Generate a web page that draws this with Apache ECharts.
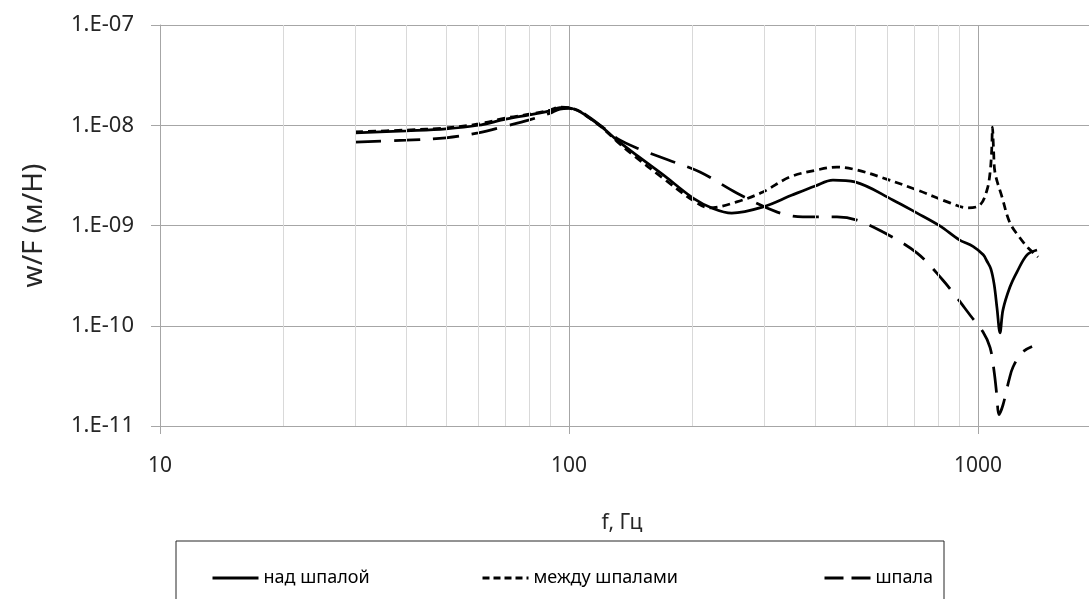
<!DOCTYPE html>
<html>
<head>
<meta charset="utf-8">
<script src="https://cdn.jsdelivr.net/npm/echarts@6/dist/echarts.min.js"></script>
<style>
  html, body { margin: 0; padding: 0; background: #ffffff; }
  #chart { width: 1089px; height: 599px; }
</style>
</head>
<body>
<div id="chart"></div>
<script>
// Receptance w/F (m/N) of the track versus frequency, three measuring points
const seriesNames = ['над шпалой', 'между шпалами', 'шпала'];

// над шпалой (rail over the sleeper)
const freqOverSleeper = [30, 40, 50, 60, 70, 80, 90, 95, 100, 105, 110, 120, 131, 143, 170, 201, 225, 250, 298, 350, 400, 442, 500, 619, 710, 807, 900, 972, 1030, 1052, 1075, 1095, 1113, 1132, 1151, 1197, 1245, 1318, 1394];
const valOverSleeper = [8.4e-9, 8.8e-9, 9.2e-9, 1.0e-8, 1.15e-8, 1.27e-8, 1.39e-8, 1.5e-8, 1.49e-8, 1.4e-8, 1.25e-8, 9.7e-9, 7.1e-9, 5.4e-9, 3.2e-9, 1.88e-9, 1.48e-9, 1.33e-9, 1.53e-9, 2.0e-9, 2.48e-9, 2.84e-9, 2.72e-9, 1.8e-9, 1.33e-9, 9.9e-10, 7.2e-10, 6.2e-10, 5.1e-10, 4.4e-10, 3.7e-10, 2.6e-10, 1.5e-10, 8.5e-11, 1.44e-10, 2.43e-10, 3.43e-10, 5.1e-10, 5.7e-10];

// между шпалами (rail between sleepers)
const freqBetween = [30, 40, 50, 60, 70, 80, 90, 95, 100, 105, 110, 120, 131, 143, 170, 201, 221, 257, 298, 347, 404, 452, 506, 586, 710, 854, 940, 1011, 1052, 1070, 1080, 1085, 1092, 1101, 1145, 1197, 1267, 1325, 1402];
const valBetween = [8.6e-9, 8.95e-9, 9.4e-9, 1.03e-8, 1.18e-8, 1.29e-8, 1.42e-8, 1.52e-8, 1.5e-8, 1.41e-8, 1.25e-8, 9.6e-9, 6.9e-9, 5.1e-9, 2.95e-9, 1.78e-9, 1.5e-9, 1.72e-9, 2.16e-9, 3.05e-9, 3.58e-9, 3.83e-9, 3.58e-9, 2.98e-9, 2.26e-9, 1.68e-9, 1.5e-9, 1.6e-9, 2.26e-9, 3.34e-9, 5.6e-9, 9.6e-9, 5.5e-9, 3.34e-9, 1.92e-9, 1.06e-9, 7.5e-10, 6.0e-10, 4.85e-10];

// шпала (sleeper)
const freqSleeper = [30, 40, 50, 60, 70, 80, 90, 95, 100, 105, 110, 120, 131, 147, 175, 209, 257, 323, 373, 452, 506, 586, 710, 820, 889, 960, 1028, 1070, 1095, 1112, 1125, 1151, 1191, 1218, 1281, 1356];
const valSleeper = [6.8e-9, 7.1e-9, 7.5e-9, 8.4e-9, 9.8e-9, 1.13e-8, 1.32e-8, 1.45e-8, 1.47e-8, 1.4e-8, 1.27e-8, 9.8e-9, 7.4e-9, 5.9e-9, 4.5e-9, 3.42e-9, 2.11e-9, 1.36e-9, 1.22e-9, 1.22e-9, 1.13e-9, 8.6e-10, 5.3e-10, 2.86e-10, 1.89e-10, 1.25e-10, 8.7e-11, 6.1e-11, 3.5e-11, 2.0e-11, 1.3e-11, 1.62e-11, 2.88e-11, 3.88e-11, 5.4e-11, 6.2e-11];

const xTickLabels = ['10', '100', '1000', '10000'];
const yTickLabels = ['1.E-11', '1.E-10', '1.E-09', '1.E-08', '1.E-07'];
const minorFreqs = [20, 30, 40, 50, 60, 70, 80, 90, 200, 300, 400, 500, 600, 700, 800, 900];

const FONT = "'Noto Sans', 'DejaVu Sans', sans-serif";
const zip = (xs, ys) => xs.map((x, i) => [x, ys[i]]);

const chart = echarts.init(document.getElementById('chart'), null, { renderer: 'canvas' });

const lineBase = {
  type: 'line',
  showSymbol: false,
  symbol: 'none',
  smooth: 0.35,
  z: 3
};

const lineTypes = ['solid', [8, 5], [26, 13]];
const legendLineTypes = ['solid', [7, 4], [19, 8]];
const legendLeft = [211, 481, 823];

// one legend block per series so each entry sits at its own place in the frame
const legends = seriesNames.map((name, i) => ({
  data: [name],
  left: legendLeft[i],
  top: 569,
  padding: 0,
  itemGap: 0,
  itemWidth: 46,
  itemHeight: 14,
  itemStyle: { opacity: 0 },
  lineStyle: { width: 3, type: legendLineTypes[i] },
  textStyle: { color: '#000000', fontFamily: FONT, fontSize: 18 }
}));

chart.setOption({
  animation: false,
  backgroundColor: '#ffffff',
  // the decade 1000..10000 runs past the right edge of the canvas
  grid: { left: 160, top: 25, bottom: 173, right: -298, containLabel: false, outerBoundsMode: 'none' },
  xAxis: {
    type: 'log',
    logBase: 10,
    min: 10,
    max: 10000,
    axisLine: { show: true, onZero: false, lineStyle: { color: '#a6a6a6', width: 1 } },
    axisTick: { show: true, length: 8, lineStyle: { color: '#a6a6a6' } },
    axisLabel: {
      margin: 30,
      color: '#262626',
      fontFamily: FONT,
      fontSize: 21,
      formatter: v => {
        const i = Math.round(Math.log10(v)) - 1;
        return xTickLabels[i] || '';
      }
    },
    splitLine: { show: true, lineStyle: { color: '#a6a6a6', width: 1 } }
  },
  yAxis: {
    type: 'log',
    logBase: 10,
    min: 1e-11,
    max: 1e-7,
    name: 'w/F (м/Н)',
    nameLocation: 'middle',
    nameGap: 112,
    nameRotate: 90,
    nameTextStyle: { color: '#262626', fontFamily: FONT, fontSize: 28 },
    axisLine: { show: true, lineStyle: { color: '#a6a6a6', width: 1 } },
    axisTick: { show: true, length: 9, lineStyle: { color: '#a6a6a6' } },
    axisLabel: {
      margin: 26,
      color: '#262626',
      fontFamily: FONT,
      fontSize: 22,
      formatter: v => {
        const i = Math.round(Math.log10(v)) + 11;
        return yTickLabels[i] || '';
      }
    },
    splitLine: { show: true, lineStyle: { color: '#a6a6a6', width: 1 } }
  },
  legend: legends,
  graphic: [
    {
      type: 'rect',
      shape: { x: 176, y: 541, width: 768, height: 80 },
      style: { fill: 'none', stroke: '#262626', lineWidth: 1 },
      silent: true
    },
    {
      type: 'text',
      x: 622,
      y: 523,
      style: {
        text: 'f, Гц',
        fill: '#262626',
        font: "21px 'Noto Sans', 'DejaVu Sans', sans-serif",
        align: 'center',
        verticalAlign: 'middle'
      },
      silent: true
    }
  ],
  series: [
    {
      // minor decade gridlines
      type: 'line',
      data: [],
      z: 1,
      silent: true,
      markLine: {
        silent: true,
        symbol: ['none', 'none'],
        label: { show: false },
        lineStyle: { color: '#d9d9d9', type: 'solid', width: 1 },
        data: minorFreqs.map(f => ({ xAxis: f }))
      }
    }
  ].concat([freqOverSleeper, freqBetween, freqSleeper].map((freqs, i) => Object.assign({}, lineBase, {
    name: seriesNames[i],
    data: zip(freqs, [valOverSleeper, valBetween, valSleeper][i]),
    lineStyle: { color: '#000000', width: 2.75, type: lineTypes[i] },
    itemStyle: { color: '#000000' }
  })))
});
</script>
</body>
</html>
